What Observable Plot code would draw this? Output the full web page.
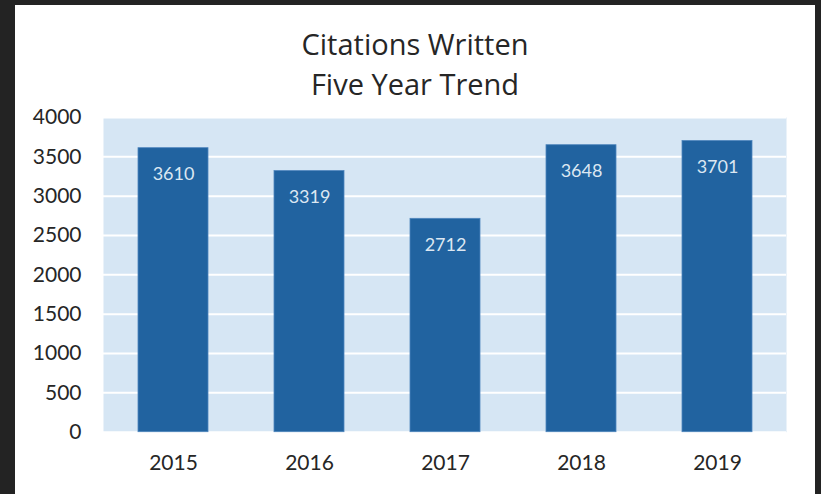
<!DOCTYPE html>
<html>
<head>
<meta charset="utf-8">
<script src="https://cdn.jsdelivr.net/npm/d3@7"></script>
<script src="https://cdn.jsdelivr.net/npm/@observablehq/plot@0.6"></script>
<style>
  html, body { margin: 0; padding: 0; }
  body { background: #232323; width: 821px; height: 494px; overflow: hidden; position: relative; font-family: Lato, "Open Sans", sans-serif; }
  #card { position: absolute; left: 15px; top: 5px; width: 800px; height: 489px; background: #ffffff; }
  #title { position: absolute; left: 0; top: 19px; width: 800px; text-align: center; font-family: "Open Sans", Lato, sans-serif; font-size: 29px; line-height: 40px; color: #262626; }
  #chart { position: absolute; left: 0; top: 80px; }
</style>
</head>
<body>
<div id="card">
  <div id="title">Citations Written<br>Five Year Trend</div>
  <div id="chart"></div>
</div>
<script>
const years = ["2015", "2016", "2017", "2018", "2019"];
const citations = [3610, 3319, 2712, 3648, 3701];
const yTicks = [0, 500, 1000, 1500, 2000, 2500, 3000, 3500, 4000];

const data = years.map((y, i) => ({year: y, value: citations[i]}));

const chart = Plot.plot({
  width: 800,
  height: 409,
  marginTop: 32,
  marginBottom: 62.3,
  marginLeft: 88,
  marginRight: 29,
  style: {fontFamily: "Lato, 'Open Sans', sans-serif", background: "transparent", overflow: "visible"},
  x: {type: "band", domain: years, paddingInner: 0.487, paddingOuter: 0.2435, align: 0.5},
  y: {domain: [0, 4000]},
  marks: [
    Plot.frame({fill: "#d6e6f4", stroke: "none"}),
    Plot.gridY(yTicks, {stroke: "#ffffff", strokeOpacity: 1, strokeWidth: 2}),
    Plot.barY(data, {x: "year", y: "value", fill: "#2163a0", stroke: "#4f86bd", strokeWidth: 0.8}),
    Plot.text(data, {x: "year", y: "value", text: d => String(d.value), fill: "#dce7f2", fontSize: 18, lineAnchor: "bottom", dy: 32}),
    Plot.axisY({ticks: yTicks, tickSize: 0, tickPadding: 22, fontSize: 21, color: "#262626", label: null, tickFormat: d => String(d)}),
    Plot.axisX({tickSize: 0, tickPadding: 23, fontSize: 21, color: "#262626", label: null})
  ]
});
document.getElementById("chart").appendChild(chart);
</script>
</body>
</html>
